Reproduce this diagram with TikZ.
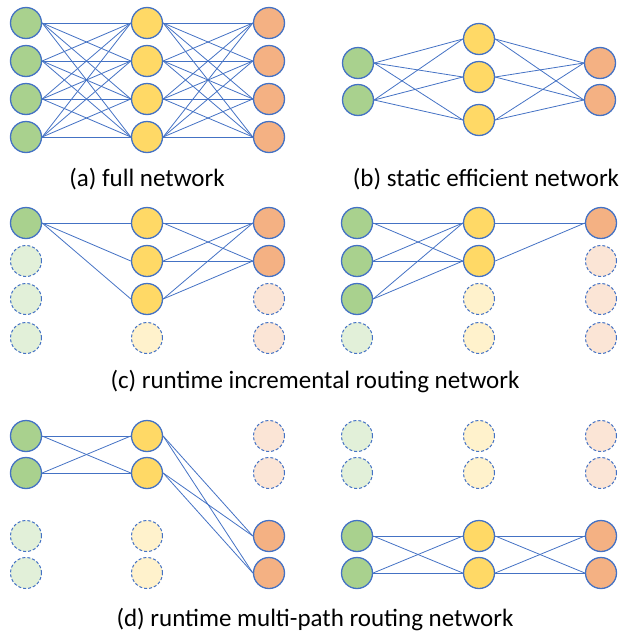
\documentclass[tikz,border=0pt]{standalone}
\usepackage{fontspec}
\setmainfont{Carlito}
\usetikzlibrary{positioning}
\definecolor{Edge}{HTML}{4472C4}
\definecolor{Leaf}{HTML}{A9D18E}
\definecolor{Sun}{HTML}{FFD966}
\definecolor{Peach}{HTML}{F4B183}
\definecolor{LeafPale}{HTML}{E2F0D9}
\definecolor{SunPale}{HTML}{FFF2CC}
\definecolor{PeachPale}{HTML}{FBE5D6}
\tikzset{
  unit/.style={
    circle, draw=Edge, line width=1.3pt, minimum size=31pt, inner sep=0pt
  },
  inunit/.style={unit, fill=Leaf},
  hidunit/.style={unit, fill=Sun},
  outunit/.style={unit, fill=Peach},
  idle/.style={unit, dash pattern=on 3pt off 2pt, line width=1pt},
  inidle/.style={idle, fill=LeafPale},
  hididle/.style={idle, fill=SunPale},
  outidle/.style={idle, fill=PeachPale},
  link/.style={draw=Edge, line width=0.8pt},
  caption/.style={font=\fontsize{25}{30}\selectfont}
}

\begin{document}
\begin{tikzpicture}[x=1pt,y=-1pt]
    \useasboundingbox (0,0) rectangle (625,635);
    % (a) full network
    \foreach \i/\y in {1/23,2/61,3/99,4/137}{
      \node[inunit] (a-i\i) at (26,\y) {};
      \node[hidunit] (a-h\i) at (147,\y) {};
      \node[outunit] (a-o\i) at (269,\y) {};
    }
    \foreach \i in {1,...,4} \foreach \j in {1,...,4}{
      \draw[link] (a-i\i.east)--(a-h\j.west);
      \draw[link] (a-h\i.east)--(a-o\j.west);
    }
    \node[caption] (a-cap) at (147,179) {(a) full network};
    % (b) static efficient network
    \node[inunit] (b-i1) at (358,63) {};
    \node[inunit] (b-i2) at (358,100) {};
    \node[hidunit] (b-h1) at (479,39) {};
    \node[hidunit] (b-h2) at (479,77) {};
    \node[hidunit] (b-h3) at (479,120) {};
    \node[outunit] (b-o1) at (600,63) {};
    \node[outunit] (b-o2) at (600,100) {};
    \foreach \i in {1,2} \foreach \j in {1,2,3}{
      \draw[link] (b-i\i.east)--(b-h\j.west);
      \draw[link] (b-h\j.east)--(b-o\i.west);
    }
    \node[caption] (b-cap) at (486,179) {(b) static efficient network};
    % (c) runtime incremental routing
    \node[inunit] (c-i1) at (26,223) {};
    \node[inidle] (c-i2) at (26,261) {};
    \node[inidle] (c-i3) at (26,299) {};
    \node[inidle] (c-i4) at (26,338) {};
    \node[hidunit] (c-h1) at (147,223) {};
    \node[hidunit] (c-h2) at (147,261) {};
    \node[hidunit] (c-h3) at (147,299) {};
    \node[hididle] (c-h4) at (147,338) {};
    \node[outunit] (c-o1) at (269,223) {};
    \node[outunit] (c-o2) at (269,261) {};
    \node[outidle] (c-o3) at (269,299) {};
    \node[outidle] (c-o4) at (269,338) {};
    \foreach \j in {1,2,3}{
      \draw[link] (c-i1.east)--(c-h\j.west);
      \draw[link] (c-h\j.east)--(c-o1.west);
      \draw[link] (c-h\j.east)--(c-o2.west);
    }
    \node[inunit] (c-I1) at (357,223) {};
    \node[inunit] (c-I2) at (357,261) {};
    \node[inunit] (c-I3) at (357,299) {};
    \node[inidle] (c-I4) at (357,338) {};
    \node[hidunit] (c-H1) at (479,223) {};
    \node[hidunit] (c-H2) at (479,261) {};
    \node[hididle] (c-H3) at (479,299) {};
    \node[hididle] (c-H4) at (479,338) {};
    \node[outunit] (c-O1) at (601,223) {};
    \node[outidle] (c-O2) at (601,261) {};
    \node[outidle] (c-O3) at (601,299) {};
    \node[outidle] (c-O4) at (601,338) {};
    \foreach \i in {1,2,3} \foreach \j in {1,2}
      \draw[link] (c-I\i.east)--(c-H\j.west);
    \draw[link] (c-H1.east)--(c-O1.west);
    \draw[link] (c-H2.east)--(c-O1.west);
    \node[caption] (c-cap) at (315,381) {(c) runtime incremental routing network};
    % (d) runtime multi-path routing
    \node[inunit] (d-i1) at (26,436) {};
    \node[inunit] (d-i2) at (26,473) {};
    \node[inidle] (d-i3) at (26,536) {};
    \node[inidle] (d-i4) at (26,573) {};
    \node[hidunit] (d-h1) at (147,436) {};
    \node[hidunit] (d-h2) at (147,473) {};
    \node[hididle] (d-h3) at (147,536) {};
    \node[hididle] (d-h4) at (147,573) {};
    \node[outidle] (d-o1) at (269,436) {};
    \node[outidle] (d-o2) at (269,473) {};
    \node[outunit] (d-o3) at (269,536) {};
    \node[outunit] (d-o4) at (269,573) {};
    \node[inidle] (d-I1) at (357,436) {};
    \node[inidle] (d-I2) at (357,473) {};
    \node[inunit] (d-I3) at (357,536) {};
    \node[inunit] (d-I4) at (357,573) {};
    \node[hididle] (d-H1) at (479,436) {};
    \node[hididle] (d-H2) at (479,473) {};
    \node[hidunit] (d-H3) at (479,536) {};
    \node[hidunit] (d-H4) at (479,573) {};
    \node[outidle] (d-O1) at (601,436) {};
    \node[outidle] (d-O2) at (601,473) {};
    \node[outunit] (d-O3) at (601,536) {};
    \node[outunit] (d-O4) at (601,573) {};
    \foreach \i in {1,2} \foreach \j in {1,2}{
      \draw[link] (d-i\i.east)--(d-h\j.west);
      \draw[link] (d-h\i.east)--(d-o\the\numexpr\j+2\relax.west);
    }
    \foreach \i in {3,4} \foreach \j in {3,4}{
      \draw[link] (d-I\i.east)--(d-H\j.west);
      \draw[link] (d-H\i.east)--(d-O\j.west);
    }
    \node[caption] (d-cap) at (315,619) {(d) runtime multi-path routing network};
\end{tikzpicture}
\end{document}
